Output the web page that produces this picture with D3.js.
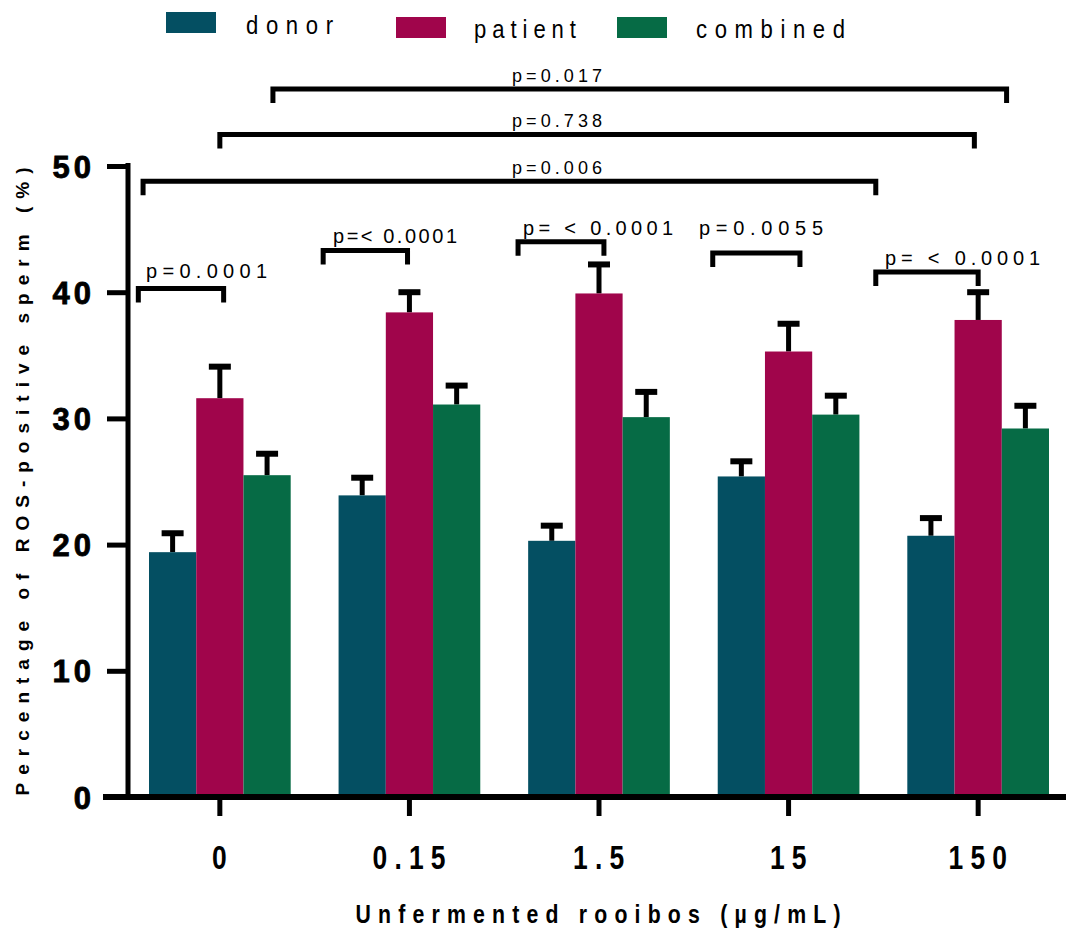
<!DOCTYPE html>
<html>
<head>
<meta charset="utf-8">
<script src="https://cdn.jsdelivr.net/npm/d3@7"></script>
<style>
  body { margin: 0; background: #fff; }
  svg { display: block; }
</style>
</head>
<body>
<div id="chart"></div>
<script>
// values
const categories = ["0", "0.15", "1.5", "15", "150"];
const seriesNames = ["donor", "patient", "combined"];
const donorMean = [19.4, 23.9, 20.3, 25.4, 20.7];
const donorSem = [1.5, 1.4, 1.2, 1.2, 1.4];
const patientMean = [31.6, 38.4, 39.9, 35.3, 37.8];
const patientSem = [2.5, 1.6, 2.3, 2.2, 2.2];
const combinedMean = [25.5, 31.1, 30.1, 30.3, 29.2];
const combinedSem = [1.7, 1.5, 2.0, 1.5, 1.8];
const yTicks = [0, 10, 20, 30, 40, 50];

// significance brackets: ends in group units (0 = first group centre), height in %
const bracketLabels = ["p=0.0001", "p=< 0.0001", "p= < 0.0001", "p=0.0055", "p= < 0.0001", "p=0.006", "p=0.738", "p=0.017"];
const bracketFrom = [-0.43, 0.545, 1.573, 2.6, 3.46, -0.405, 0.0, 0.28];
const bracketTo = [0.02, 0.99, 2.026, 3.06, 4.0, 3.46, 3.98, 4.15];
const bracketHeight = [40.3, 43.3, 44.0, 43.1, 41.6, 48.8, 52.5, 56.1];

const colors = { donor: "#044f62", patient: "#a0054b", combined: "#066b45" };
const narrow = "'Liberation Sans Narrow', 'Arial Narrow', 'Liberation Sans', sans-serif";

const W = 1066, H = 932;
const svg = d3.select("#chart").append("svg")
    .attr("width", W)
    .attr("height", H)
    .style("font-family", "'Liberation Sans', Arial, sans-serif");

const x = d3.scaleBand()
    .domain(categories)
    .range([149, 1049])
    .paddingInner(0.2526)
    .paddingOuter(0);

const xSub = d3.scaleBand()
    .domain(seriesNames)
    .range([0, x.bandwidth()]);

const y = d3.scaleLinear()
    .domain([0, 50])
    .range([797, 166]);

// group index -> pixel (for brackets)
const gx = d3.scaleLinear()
    .domain([0, 1])
    .range([x(categories[0]) + x.bandwidth() / 2, x(categories[1]) + x.bandwidth() / 2]);

const data = categories.map((c, i) => ({
    cat: c,
    values: [
        { key: "donor", mean: donorMean[i], sem: donorSem[i] },
        { key: "patient", mean: patientMean[i], sem: patientSem[i] },
        { key: "combined", mean: combinedMean[i], sem: combinedSem[i] }
    ]
}));

const groups = svg.selectAll(".grp")
    .data(data)
    .enter().append("g")
    .attr("class", "grp")
    .attr("transform", d => `translate(${x(d.cat)},0)`);

// error bars first (bars sit on top of the stem)
groups.selectAll(".stem")
    .data(d => d.values)
    .enter().append("line")
    .attr("x1", d => xSub(d.key) + xSub.bandwidth() / 2)
    .attr("x2", d => xSub(d.key) + xSub.bandwidth() / 2)
    .attr("y1", d => y(d.mean))
    .attr("y2", d => y(d.mean + d.sem))
    .attr("stroke", "#000")
    .attr("stroke-width", 5);

groups.selectAll(".cap")
    .data(d => d.values)
    .enter().append("line")
    .attr("x1", d => xSub(d.key) + xSub.bandwidth() / 2 - 11)
    .attr("x2", d => xSub(d.key) + xSub.bandwidth() / 2 + 11)
    .attr("y1", d => y(d.mean + d.sem))
    .attr("y2", d => y(d.mean + d.sem))
    .attr("stroke", "#000")
    .attr("stroke-width", 6);

groups.selectAll(".bar")
    .data(d => d.values)
    .enter().append("rect")
    .attr("x", d => xSub(d.key))
    .attr("y", d => y(d.mean))
    .attr("width", xSub.bandwidth())
    .attr("height", d => y(0) - y(d.mean))
    .attr("fill", d => colors[d.key]);

// y axis
const yAxis = svg.append("g")
    .attr("transform", "translate(128,0)")
    .call(d3.axisLeft(y).tickValues(yTicks).tickSize(21).tickPadding(12).tickFormat(d3.format("d")));
yAxis.select(".domain").attr("stroke", "#000").attr("stroke-width", 5)
    .attr("d", `M0,${y(50) - 3}V${y(0)}`);
yAxis.selectAll(".tick line").attr("stroke", "#000").attr("stroke-width", 5);
yAxis.selectAll(".tick text")
    .attr("fill", "#000")
    .style("font-size", "31px")
    .style("font-weight", "bold")
    .style("letter-spacing", "4px")
    .style("stroke", "#000")
    .style("stroke-width", "0.8px")
    .attr("dy", "0.36em");

// x axis
const xAxis = svg.append("g")
    .attr("transform", `translate(0,${y(0)})`)
    .call(d3.axisBottom(x).tickSize(19).tickPadding(30));
xAxis.select(".domain").attr("stroke", "#000").attr("stroke-width", 6)
    .attr("d", "M103,0H1066");
xAxis.selectAll(".tick line").attr("stroke", "#000").attr("stroke-width", 5);
xAxis.selectAll(".tick text")
    .attr("fill", "#000")
    .style("font-family", narrow)
    .style("font-size", "33px")
    .style("font-weight", "bold")
    .style("letter-spacing", "9px")
    .attr("dx", "4px")
    .attr("transform", "scale(0.8,1)");

// axis titles
svg.append("text")
    .attr("transform", `translate(29,${(y(0) + y(50)) / 2}) rotate(-90)`)
    .attr("text-anchor", "middle")
    .attr("textLength", 628)
    .attr("lengthAdjust", "spacing")
    .style("font-size", "19px")
    .style("font-weight", "bold")
    .text("Percentage of ROS-positive sperm (%)");

svg.append("text")
    .attr("transform", "translate(598,923) scale(0.85,1)")
    .attr("text-anchor", "middle")
    .attr("textLength", 485 / 0.85)
    .attr("lengthAdjust", "spacing")
    .style("font-family", narrow)
    .style("font-size", "25px")
    .style("font-weight", "bold")
    .text("Unfermented rooibos (µg/mL)");

// significance brackets
const leg = 14;
const bracketData = bracketLabels.map((t, i) => ({ label: t, from: bracketFrom[i], to: bracketTo[i], h: bracketHeight[i], wide: i >= 5 }));
svg.selectAll(".bracket")
    .data(bracketData)
    .enter().append("path")
    .attr("d", d => `M${gx(d.from)},${y(d.h) + leg}V${y(d.h)}H${gx(d.to)}V${y(d.h) + leg}`)
    .attr("fill", "none")
    .attr("stroke", "#000")
    .attr("stroke-width", 5);

// small pair labels (left aligned, wide spacing)
const pairText = [
    { i: 0, x: 146, y: 278, len: 121 },
    { i: 1, x: 333, y: 243, len: 124 },
    { i: 2, x: 523, y: 235, len: 150 },
    { i: 3, x: 699, y: 235, len: 124 },
    { i: 4, x: 885, y: 265, len: 155 }
];
svg.selectAll(".ptxt")
    .data(pairText)
    .enter().append("text")
    .attr("x", d => d.x)
    .attr("y", d => d.y)
    .attr("textLength", d => d.len)
    .attr("lengthAdjust", "spacing")
    .style("font-size", "20px")
    .text(d => bracketLabels[d.i]);

// long bracket labels, centred above
svg.selectAll(".ltxt")
    .data(bracketData.filter(d => d.wide))
    .enter().append("text")
    .attr("x", 557)
    .attr("y", d => y(d.h) - 7)
    .attr("text-anchor", "middle")
    .attr("textLength", 90)
    .attr("lengthAdjust", "spacing")
    .style("font-size", "18px")
    .text(d => d.label);

// legend
const legendPos = [
    { key: "donor", sx: 166, sy: 12, tx: 246, ty: 34, len: 87 },
    { key: "patient", sx: 396, sy: 17, tx: 474, ty: 38, len: 102 },
    { key: "combined", sx: 617, sy: 17, tx: 696, ty: 38, len: 149 }
];
const lg = svg.selectAll(".lg")
    .data(legendPos)
    .enter().append("g");
lg.append("rect")
    .attr("x", d => d.sx)
    .attr("y", d => d.sy)
    .attr("width", 50)
    .attr("height", 21)
    .attr("fill", d => colors[d.key]);
lg.append("text")
    .attr("transform", d => `translate(${d.tx},${d.ty}) scale(0.85,1)`)
    .attr("textLength", d => d.len / 0.85)
    .attr("lengthAdjust", "spacing")
    .style("font-family", narrow)
    .style("font-size", "26px")
    .text(d => d.key);
</script>
</body>
</html>
